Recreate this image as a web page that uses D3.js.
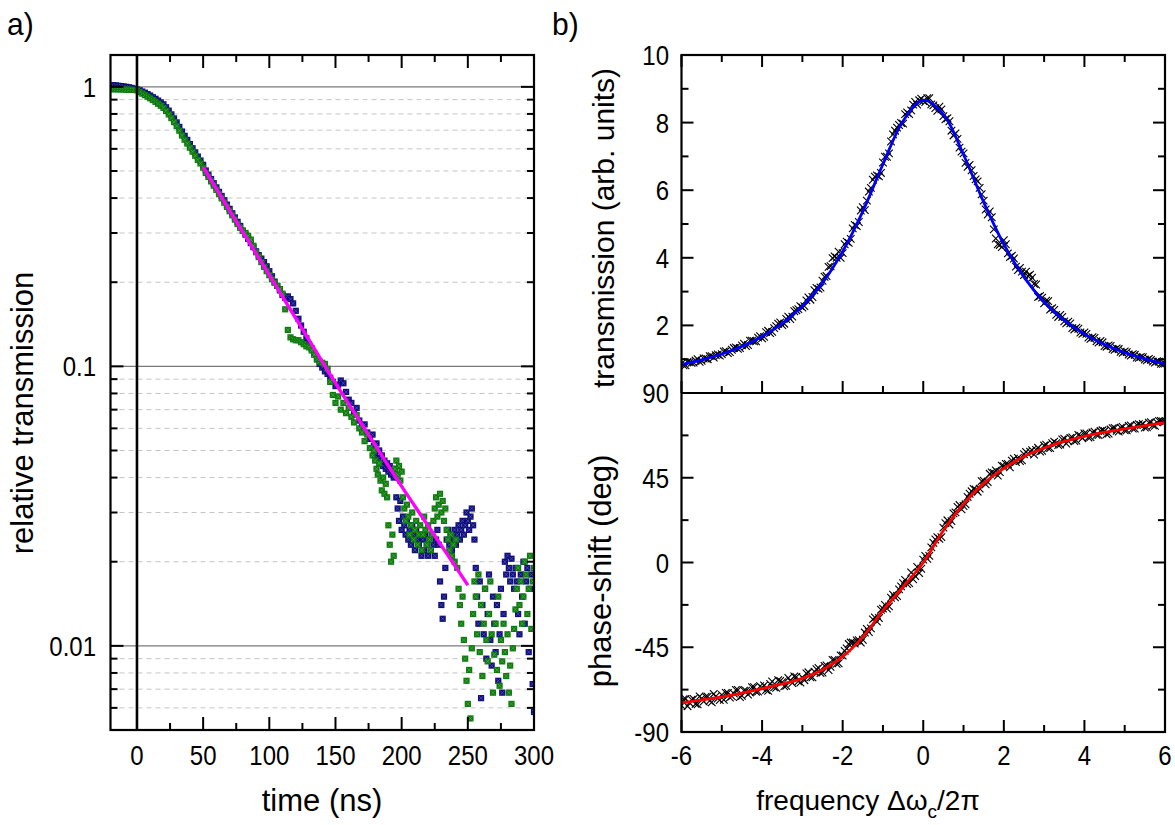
<!DOCTYPE html>
<html><head><meta charset="utf-8">
<script src="https://cdn.jsdelivr.net/npm/d3@7"></script>
<style>
body{margin:0;background:#fff}
text{font-family:"Liberation Sans",Arial,sans-serif;fill:#000}
</style>
</head><body>
<svg id="c" width="1175" height="825"></svg>
<script>
// ---------- panel a) data ----------
const timeNs = [-20,-18,-16,-14,-12,-10,-8,-6,-4,-2,0,2,4,6,8,10,12,14,16,18,20,22,24,26,28,30,32,34,36,38,40,42,44,46,48,50,
52,54,56,58,60,62,64,66,68,70,72,74,76,78,80,82,84,86,88,90,92,94,96,98,100,102,104,106,108,110,
112,114,116,118,120,122,124,126,128,130,132,134,136,138,140,142,144,146,148,150,152,154,156,158,160,162,164,166,168,170,172,174,176,178,
179,180,181,182,183,184,185,186,187,188,189,190,191,192,193,194,195,196,197,198,199,200,201,202,203,204,205,206,207,208,
209,210,211,212,213,214,215,216,217,218,219,220,221,222,223,224,225,226,227,228,229,230,231,232,233,234,235,236,237,238,
239,240,241,242,243,244,245,246,247,248,249,250,251,252,253,254,255,256,257,258,259,260,261,262,263,264,265,266,267,268,
269,270,271,272,273,274,275,276,277,278,279,280,281,282,283,284,285,286,287,288,289,290,291,292,293,294,295,296,297,298,299,300];

const blueTrans = [1.010,1.014,1.012,1.009,1.006,1.003,1.000,0.996,0.991,0.985,0.978,
0.972,0.962,0.953,0.942,0.931,0.918,0.906,0.893,0.880,0.866,0.845,0.822,0.797,0.771,0.746,0.719,0.692,0.668,0.646,0.624,0.603,0.583,0.563,0.545,0.526,
0.502,0.485,0.468,0.452,0.437,0.421,0.407,0.393,0.379,0.366,0.353,0.341,0.329,0.318,0.306,0.296,0.286,0.276,0.267,0.258,
0.250,0.243,0.236,0.228,0.219,0.210,0.201,0.194,0.187,0.180,
0.176,0.178,0.174,0.168,0.158,0.148,0.140,0.133,0.126,0.120,
0.116,0.111,0.106,0.102,0.099,0.096,0.094,0.091,0.088,0.085,
0.086,0.089,0.087,0.081,0.076,0.074,0.068,0.071,0.064,0.061,
0.062,0.058,0.055,0.057,
0.052,0.049,0.053,0.047,0.050,0.045,0.048,0.044,0.046,0.043,
0.045,0.042,0.044,0.041,0.043,0.040,0.042,0.034,0.031,0.028,
0.033,0.026,0.029,0.027,0.025,0.028,0.024,0.026,0.023,0.027,
0.025,0.022,0.026,0.024,0.023,0.025,0.021,0.024,0.022,0.025,
0.023,0.021,0.024,0.022,0.025,0.023,0.021,0.024,0.026,0.023,
0.017,0.014,0.0125,0.015,0.019,0.024,0.026,0.023,0.025,0.022,
0.024,0.026,0.023,0.025,0.027,0.024,0.026,0.028,0.025,0.027,
0.030,0.028,0.026,0.029,0.031,0.027,0.024,
0.019,0.015,0.012,0.017,0.0065,0.014,0.011,0.016,0.009,0.013,
0.018,0.0105,0.0085,0.015,0.012,0.0095,0.014,0.0075,0.011,0.016,
0.0068,0.013,0.020,0.018,0.021,0.019,0.017,0.0205,0.018,0.016,
0.019,0.017,0.013,0.011,0.018,0.015,0.020,0.012,0.017,0.019,
0.0095,0.016,0.018,0.0073,0.0058];

const greenTrans = [0.982,0.980,0.981,0.979,0.980,0.978,0.977,0.977,0.976,0.975,0.972,
0.958,0.946,0.934,0.922,0.910,0.897,0.884,0.870,0.856,0.841,0.820,0.797,0.773,0.748,0.724,0.697,0.670,0.647,0.627,0.606,0.586,0.567,0.548,0.532,0.514,
0.492,0.476,0.459,0.443,0.428,0.413,0.399,0.385,0.372,0.359,0.347,0.335,0.323,0.313,0.305,0.300,0.293,0.284,0.270,0.256,
0.246,0.236,0.227,0.219,0.212,0.205,0.199,0.194,0.189,0.182,
0.160,0.135,0.127,0.125,0.124,0.124,0.122,0.120,0.118,0.117,
0.114,0.110,0.106,0.104,0.103,0.102,0.098,0.088,0.079,0.074,
0.078,0.070,0.074,0.068,0.071,0.066,0.063,0.067,0.060,0.058,
0.054,0.057,0.051,0.048,
0.050,0.046,0.043,0.041,0.045,0.039,0.036,0.040,0.035,0.038,
0.034,0.027,0.023,0.020,0.025,0.021,0.043,0.046,0.041,0.044,
0.039,0.042,0.034,0.031,0.028,0.032,0.029,0.025,0.027,0.030,
0.024,0.026,0.028,0.023,0.025,0.027,0.022,0.025,0.029,0.026,
0.023,0.027,0.024,0.022,0.025,0.028,0.031,0.034,0.029,0.032,
0.035,0.030,0.033,0.028,0.031,0.026,0.024,0.022,0.025,0.021,
0.023,0.020,0.024,0.019,0.016,0.014,0.012,0.015,0.0105,0.009,
0.0075,0.0062,0.0082,0.0055,0.0098,0.013,0.017,0.015,0.011,0.018,
0.0095,0.014,0.0078,0.012,0.016,0.0105,0.0088,0.013,0.017,0.011,
0.0068,0.0093,0.012,0.0082,0.015,0.0072,0.0105,0.0088,0.012,0.0095,
0.0078,0.011,0.0068,0.0085,0.0062,0.0098,0.0115,0.0135,0.016,0.019,
0.014,0.017,0.012,0.015,0.020,0.018,0.013,0.016,0.021,0.0115,
0.017,0.019];

const fitTime = [50,75,100,125,150,175,200,225,250];
const fitTrans = [0.516,0.330,0.212,0.136,0.0871,0.0569,0.0372,0.0248,0.0165];

const timeMajorTicks = [0,50,100,150,200,250,300];
const timeMinorTicks = [25,75,125,175,225,275];
const transMajorTicks = [0.01,0.1,1];
const transMinorTicks = [0.006,0.007,0.008,0.009,0.02,0.03,0.04,0.05,0.06,0.07,0.08,0.09,0.2,0.3,0.4,0.5,0.6,0.7,0.8,0.9];
const transTickLabels = ["0.01","0.1","1"];

// ---------- panel b) data ----------
const freq = [-6.0,-5.9,-5.8,-5.7,-5.6,-5.5,-5.4,-5.3,-5.2,-5.1,-5.0,-4.9,-4.8,-4.7,-4.6,-4.5,-4.4,-4.3,-4.2,-4.1,-4.0,
-3.9,-3.8,-3.7,-3.6,-3.5,-3.4,-3.3,-3.2,-3.1,-3.0,-2.9,-2.8,-2.7,-2.6,-2.5,-2.4,-2.3,-2.2,-2.1,-2.0,
-1.9,-1.8,-1.7,-1.6,-1.5,-1.4,-1.3,-1.2,-1.1,-1.0,-0.9,-0.8,-0.7,-0.6,-0.5,-0.4,-0.3,-0.2,-0.1,0.0,
0.1,0.2,0.3,0.4,0.5,0.6,0.7,0.8,0.9,1.0,1.1,1.2,1.3,1.4,1.5,1.6,1.7,1.8,1.9,2.0,
2.1,2.2,2.3,2.4,2.5,2.6,2.7,2.8,2.9,3.0,3.1,3.2,3.3,3.4,3.5,3.6,3.7,3.8,3.9,4.0,
4.1,4.2,4.3,4.4,4.5,4.6,4.7,4.8,4.9,5.0,5.1,5.2,5.3,5.4,5.5,5.6,5.7,5.8,5.9,6.0];

const transData = [0.87,0.82,0.91,0.90,1.00,0.95,1.02,1.09,1.05,1.14,1.15,
1.24,1.21,1.33,1.31,1.41,1.39,1.55,1.53,1.64,1.62,
1.80,1.77,1.92,2.05,2.01,2.19,2.19,2.42,2.48,2.53,
2.74,2.76,3.04,3.08,3.32,3.46,3.75,4.04,4.18,4.14,
4.48,4.56,4.97,5.06,5.50,5.69,6.07,6.40,6.41,6.82,
6.99,7.44,7.76,7.93,7.97,8.30,8.36,8.61,8.66,8.64,
8.72,8.54,8.43,8.47,8.19,8.13,7.76,7.68,7.26,7.09,
6.69,6.59,6.32,6.07,5.69,5.28,5.20,4.57,4.38,4.52,
4.13,4.06,3.74,3.70,3.49,3.46,3.41,3.21,2.87,2.65,
2.72,2.51,2.31,2.31,2.12,2.11,1.92,1.93,1.79,1.79,
1.64,1.65,1.53,1.54,1.39,1.41,1.30,1.32,1.22,1.23,
1.14,1.15,1.05,1.07,0.99,1.01,0.93,0.94,0.86,0.87];

const phaseData = [-76.0,-72.4,-74.5,-72.4,-75.3,-72.2,-71.2,-73.4,-69.8,-72.2,-70.3,
-69.3,-71.7,-69.6,-67.7,-70.8,-68.1,-69.0,-66.2,-68.5,-66.6,
-67.7,-64.5,-66.3,-62.5,-63.5,-65.5,-62.7,-60.5,-63.1,-61.0,
-58.9,-61.0,-58.0,-56.0,-58.5,-54.6,-55.4,-51.7,-53.5,-49.4,
-45.6,-42.5,-43.0,-41.3,-41.0,-35.3,-35.0,-29.2,-29.5,-24.5,
-24.5,-18.7,-18.5,-14.3,-11.0,-11.4,-5.3,-7.2,-5.6,1.5,
1.9,8.0,12.2,12.6,18.5,22.4,22.0,26.6,30.5,30.0,
34.8,37.8,38.8,39.2,43.5,42.7,47.8,48.9,48.0,51.2,
52.3,54.1,53.3,53.9,57.5,57.7,59.7,59.8,58.9,62.1,
60.7,63.4,63.4,62.6,65.8,64.3,66.4,64.7,67.3,68.5,
66.4,69.1,67.8,69.8,69.8,68.4,71.3,69.9,71.6,70.2,
72.5,71.1,73.0,72.9,71.7,74.3,72.8,74.4,75.1,74.8];

// second interleaved sweep (samples in between)
const freqMid = [-5.95,-5.85,-5.75,-5.65,-5.55,-5.45,-5.35,-5.25,-5.15,-5.05,-4.95,-4.85,-4.75,-4.65,-4.55,-4.45,-4.35,-4.25,-4.15,-4.05,
-3.95,-3.85,-3.75,-3.65,-3.55,-3.45,-3.35,-3.25,-3.15,-3.05,-2.95,-2.85,-2.75,-2.65,-2.55,-2.45,-2.35,-2.25,-2.15,-2.05,
-1.95,-1.85,-1.75,-1.65,-1.55,-1.45,-1.35,-1.25,-1.15,-1.05,-0.95,-0.85,-0.75,-0.65,-0.55,-0.45,-0.35,-0.25,-0.15,-0.05,
0.05,0.15,0.25,0.35,0.45,0.55,0.65,0.75,0.85,0.95,1.05,1.15,1.25,1.35,1.45,1.55,1.65,1.75,1.85,1.95,
2.05,2.15,2.25,2.35,2.45,2.55,2.65,2.75,2.85,2.95,3.05,3.15,3.25,3.35,3.45,3.55,3.65,3.75,3.85,3.95,
4.05,4.15,4.25,4.35,4.45,4.55,4.65,4.75,4.85,4.95,5.05,5.15,5.25,5.35,5.45,5.55,5.65,5.75,5.85,5.95];

const transMid = [0.82,0.92,0.89,0.96,0.92,1.02,1.00,1.09,1.12,1.11,
1.23,1.18,1.28,1.35,1.33,1.46,1.42,1.55,1.53,1.68,
1.66,1.84,1.81,1.98,2.09,2.05,2.26,2.26,2.45,2.57,
2.57,2.83,2.84,3.11,3.12,3.44,3.73,3.99,4.00,4.00,
4.40,4.44,4.87,4.94,5.40,5.41,5.96,6.31,6.44,6.51,
6.99,7.09,7.65,7.85,7.99,8.25,8.25,8.53,8.53,8.71,
8.61,8.72,8.51,8.35,8.39,8.10,8.04,7.62,7.52,7.14,
6.81,6.75,6.42,6.26,5.88,5.43,5.37,4.84,4.40,4.32,
4.40,4.02,3.98,3.64,3.59,3.59,3.50,3.23,2.84,2.82,
2.73,2.47,2.46,2.25,2.25,2.06,2.06,1.88,1.90,1.75,
1.75,1.60,1.63,1.49,1.50,1.37,1.39,1.28,1.30,1.19,
1.21,1.11,1.13,1.04,1.06,0.97,0.98,0.90,0.93,0.86];

const phaseMid = [-72.6,-76.3,-72.8,-75.1,-71.1,-73.8,-71.2,-74.2,-71.1,-73.0,
-72.9,-69.2,-71.0,-67.7,-71.4,-68.0,-70.1,-66.2,-68.6,-65.7,
-65.3,-68.1,-63.2,-66.5,-62.9,-65.7,-61.3,-64.0,-60.7,-63.7,
-62.5,-58.3,-61.0,-56.7,-58.7,-54.9,-57.1,-51.7,-53.8,-49.3,
-46.9,-43.3,-42.5,-41.4,-42.5,-37.2,-36.9,-30.2,-31.4,-25.1,
-22.5,-23.3,-17.1,-17.8,-12.7,-9.2,-10.9,-8.9,-2.4,-3.3,
3.5,3.5,10.5,13.4,13.5,20.9,20.2,26.1,29.5,28.2,
30.9,36.5,39.1,37.6,43.2,41.5,47.1,47.6,46.1,51.4,
52.3,50.5,55.1,55.5,54.3,58.7,58.9,57.3,60.9,59.3,
62.6,60.7,64.2,62.4,65.3,63.2,66.2,64.5,67.7,66.0,
68.5,66.6,69.5,67.7,70.2,68.1,70.7,71.5,69.5,72.0,
70.2,72.8,71.1,73.4,73.6,71.8,74.5,72.6,75.2,74.9];

const fitFreq = [-6,-5.5,-5,-4.5,-4,-3.5,-3,-2.5,-2,-1.5,-1,-0.5,0,0.5,1,1.5,2,2.5,3,3.5,4,4.5,5,5.5,6];
const transFit = [0.839,0.979,1.155,1.38,1.673,2.06,2.572,3.259,4.188,5.375,6.768,8.049,8.665,8.244,7.049,5.644,4.401,3.427,2.693,2.146,1.741,1.433,1.195,1.011,0.864];
const phaseFit = [-74.5,-73.0,-71.3,-69.3,-67.0,-64.5,-61.5,-57.0,-50.0,-39.5,-25.5,-13.0,0.0,17.0,31.0,42.0,50.0,56.3,60.8,64.3,67.0,69.2,71.0,72.7,74.2];

const freqMajorTicks = [-6,-4,-2,0,2,4,6];
const freqMinorTicks = [-5,-3,-1,1,3,5];
const transBMajorTicks = [2,4,6,8,10];
const transBMinorTicks = [1,3,5,7,9];
const phaseMajorTicks = [-90,-45,0,45,90];
const phaseMinorTicks = [-67.5,-22.5,22.5,67.5];

// ---------- drawing ----------
const svg = d3.select('#c');
svg.append('rect').attr('width',1175).attr('height',825).attr('fill','#fff');

const A = {x0:110.5, x1:534, y0:55, y1:730};
const xT = d3.scaleLinear().domain([-20,300]).range([A.x0,A.x1]);
const yT = d3.scaleLog().domain([0.005,1.3]).range([A.y1,A.y0]);

const B = {x0:681.5, x1:1165, y0:55, ym:393, y1:732};
const xF = d3.scaleLinear().domain([-6,6]).range([B.x0,B.x1]);
const yTr = d3.scaleLinear().domain([0,10]).range([B.ym,B.y0]);
const yPh = d3.scaleLinear().domain([-90,90]).range([B.y1,B.ym]);

const defs = svg.append('defs');
defs.append('clipPath').attr('id','clipA').append('rect')
  .attr('x',A.x0).attr('y',A.y0).attr('width',A.x1-A.x0).attr('height',A.y1-A.y0);
defs.append('clipPath').attr('id','clipB1').append('rect')
  .attr('x',B.x0).attr('y',B.y0).attr('width',B.x1-B.x0).attr('height',B.ym-B.y0);
defs.append('clipPath').attr('id','clipB2').append('rect')
  .attr('x',B.x0).attr('y',B.ym).attr('width',B.x1-B.x0).attr('height',B.y1-B.ym);

function txt(parent, x, y, s, size, anchor, rot, sy){
  const g = parent.append('g').attr('transform',`translate(${x},${y}) rotate(${rot||0}) scale(1,${sy||1})`);
  return g.append('text').attr('font-size',size).attr('text-anchor',anchor||'start').text(s);
}

// grid lines panel a
const gA = svg.append('g');
gA.selectAll('line.minor').data(transMinorTicks).enter().append('line')
  .attr('x1',A.x0).attr('x2',A.x1).attr('y1',d=>yT(d)).attr('y2',d=>yT(d))
  .attr('stroke','#c4c4c4').attr('stroke-width',1).attr('stroke-dasharray','5,4');
gA.selectAll('line.major').data(transMajorTicks).enter().append('line')
  .attr('x1',A.x0).attr('x2',A.x1).attr('y1',d=>yT(d)).attr('y2',d=>yT(d))
  .attr('stroke','#7a7a7a').attr('stroke-width',1.2);

const dataA = svg.append('g').attr('clip-path','url(#clipA)');
function drawSeries(vals, color, light){
  const r = 3.1;
  const g = dataA.append('g').selectAll('g').data(timeNs.map((t,i)=>[t,vals[i]])).enter().append('g')
    .attr('transform',d=>`translate(${xT(d[0])},${yT(d[1])})`);
  g.append('rect').attr('x',-r).attr('y',-r).attr('width',2*r).attr('height',2*r).attr('fill',color);
  g.append('path').attr('d',`M${-r+1},${-r+1}L${r-1},${r-1}M${-r+1},${r-1}L${r-1},${-r+1}`)
    .attr('stroke',light).attr('stroke-width',0.7);
}
drawSeries(blueTrans,'#0c0c7c','#5a5ab0');
drawSeries(greenTrans,'#0a7a0a','#5aa85a');

dataA.append('path').datum(fitTime.map((t,i)=>[t,fitTrans[i]]))
  .attr('d',d3.line().x(d=>xT(d[0])).y(d=>yT(d[1])).curve(d3.curveMonotoneX))
  .attr('fill','none').attr('stroke','#ff00ff').attr('stroke-width',3.4);

svg.append('line').attr('x1',xT(0)).attr('x2',xT(0)).attr('y1',A.y0).attr('y2',A.y1)
  .attr('stroke','#000').attr('stroke-width',2.6);

function vTicks(g, vals, scale, x, dir, len){
  g.selectAll(null).data(vals).enter().append('line')
    .attr('x1',x).attr('x2',x+dir*len).attr('y1',d=>scale(d)).attr('y2',d=>scale(d))
    .attr('stroke','#000').attr('stroke-width',2);
}
function hTicks(g, vals, scale, y, dir, len){
  g.selectAll(null).data(vals).enter().append('line')
    .attr('y1',y).attr('y2',y+dir*len).attr('x1',d=>scale(d)).attr('x2',d=>scale(d))
    .attr('stroke','#000').attr('stroke-width',2);
}
const tk = svg.append('g');
vTicks(tk, transMajorTicks, yT, A.x0, 1, 13);
vTicks(tk, transMinorTicks, yT, A.x0, 1, 7);
vTicks(tk, transMajorTicks, yT, A.x1, -1, 13);
vTicks(tk, transMinorTicks, yT, A.x1, -1, 7);
hTicks(tk, timeMajorTicks, xT, A.y1, -1, 13);
hTicks(tk, timeMinorTicks, xT, A.y1, -1, 7);
hTicks(tk, timeMajorTicks, xT, A.y0, 1, 13);
hTicks(tk, timeMinorTicks, xT, A.y0, 1, 7);

svg.append('rect').attr('x',A.x0).attr('y',A.y0).attr('width',A.x1-A.x0).attr('height',A.y1-A.y0)
  .attr('fill','none').attr('stroke','#000').attr('stroke-width',2.2);

const lab = svg.append('g');
const SY = 1.16;
transMajorTicks.forEach((d,i)=>txt(lab, 96, yT(d), transTickLabels[i], 24, 'end', 0, SY).attr('dy','0.36em'));
timeMajorTicks.forEach(d=>txt(lab, xT(d), 765, String(d), 24, 'middle', 0, SY));

txt(svg, 33, 413, 'relative transmission', 31, 'middle', -90, 1);
txt(svg, 322, 811, 'time (ns)', 31, 'middle', 0, 1);
txt(svg, 7, 35, 'a)', 30, 'start', 0, 1.05);
txt(svg, 552, 35, 'b)', 30, 'start', 0, 1.05);

// panel b data
const markB = r => `M${-r},${-r}L${r},${r}M${-r},${r}L${r},${-r}`;
function crosses(g, xs, ys, yScale){
  g.append('g').selectAll('path').data(xs.map((f,i)=>[f,ys[i]])).enter().append('path')
    .attr('transform',d=>`translate(${xF(d[0])},${yScale(d[1])})`)
    .attr('d',markB(3.8)).attr('stroke','#000').attr('stroke-width',1.1).attr('fill','none');
}
const g1 = svg.append('g').attr('clip-path','url(#clipB1)');
crosses(g1, freq, transData, yTr);
crosses(g1, freqMid, transMid, yTr);
g1.append('path').datum(fitFreq.map((f,i)=>[f,transFit[i]]))
  .attr('d',d3.line().x(d=>xF(d[0])).y(d=>yTr(d[1])).curve(d3.curveCatmullRom))
  .attr('fill','none').attr('stroke','#0000ff').attr('stroke-width',2.8);

const g2 = svg.append('g').attr('clip-path','url(#clipB2)');
crosses(g2, freq, phaseData, yPh);
crosses(g2, freqMid, phaseMid, yPh);
g2.append('path').datum(fitFreq.map((f,i)=>[f,phaseFit[i]]))
  .attr('d',d3.line().x(d=>xF(d[0])).y(d=>yPh(d[1])).curve(d3.curveCatmullRom))
  .attr('fill','none').attr('stroke','#ff0000').attr('stroke-width',2.8);

const tb = svg.append('g');
vTicks(tb, transBMajorTicks, yTr, B.x0, 1, 12);
vTicks(tb, transBMinorTicks, yTr, B.x0, 1, 7);
vTicks(tb, transBMajorTicks, yTr, B.x1, -1, 12);
vTicks(tb, transBMinorTicks, yTr, B.x1, -1, 7);
vTicks(tb, phaseMajorTicks, yPh, B.x0, 1, 12);
vTicks(tb, phaseMinorTicks, yPh, B.x0, 1, 7);
vTicks(tb, phaseMajorTicks, yPh, B.x1, -1, 12);
vTicks(tb, phaseMinorTicks, yPh, B.x1, -1, 7);
hTicks(tb, freqMajorTicks, xF, B.y0, 1, 12);
hTicks(tb, freqMinorTicks, xF, B.y0, 1, 7);
hTicks(tb, freqMajorTicks, xF, B.ym, -1, 12);
hTicks(tb, freqMinorTicks, xF, B.ym, -1, 7);
hTicks(tb, freqMajorTicks, xF, B.y1, -1, 12);
hTicks(tb, freqMinorTicks, xF, B.y1, -1, 7);

svg.append('rect').attr('x',B.x0).attr('y',B.y0).attr('width',B.x1-B.x0).attr('height',B.y1-B.y0)
  .attr('fill','none').attr('stroke','#000').attr('stroke-width',2.2);
svg.append('line').attr('x1',B.x0).attr('x2',B.x1).attr('y1',B.ym).attr('y2',B.ym)
  .attr('stroke','#000').attr('stroke-width',2.2);

const labB = svg.append('g');
transBMajorTicks.forEach(d=>txt(labB, 669, yTr(d), String(d), 24, 'end', 0, SY).attr('dy','0.36em'));
phaseMajorTicks.forEach(d=>txt(labB, 669, yPh(d), String(d), 24, 'end', 0, SY).attr('dy','0.36em'));
freqMajorTicks.forEach(d=>txt(labB, xF(d), 765, String(d), 24, 'middle', 0, SY));

txt(svg, 614, 228, 'transmission (arb. units)', 30, 'middle', -90, 1);
txt(svg, 611, 571, 'phase-shift (deg)', 31, 'middle', -90, 1);
const ft = txt(svg, 868, 810, '', 28, 'middle', 0, 1);
ft.append('tspan').text('frequency \u0394\u03c9');
ft.append('tspan').attr('font-size',19).attr('dy',8).text('c');
ft.append('tspan').attr('dy',-8).text('/2\u03c0');
</script>
</body></html>
